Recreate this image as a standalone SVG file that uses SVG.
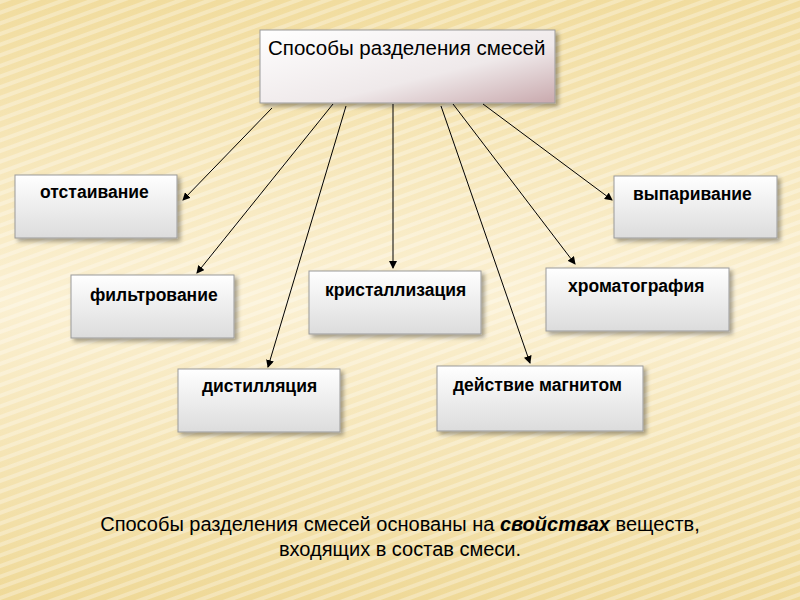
<svg xmlns="http://www.w3.org/2000/svg" width="800" height="600" viewBox="0 0 800 600">
<defs>
<linearGradient id="bg" x1="0" y1="0" x2="0" y2="1"><stop offset="0" stop-color="#f1dc9e"/><stop offset="0.5" stop-color="#fbf0d2"/><stop offset="1" stop-color="#efd998"/></linearGradient>
<pattern id="stripes" width="10" height="10" patternUnits="userSpaceOnUse" patternTransform="rotate(-20)"><rect width="10" height="4" fill="#ffffff" opacity="0.3"/></pattern>
<linearGradient id="box" x1="0" y1="0" x2="0" y2="1"><stop offset="0" stop-color="#ffffff"/><stop offset="1" stop-color="#dcdcdc"/></linearGradient>
<linearGradient id="top" x1="0" y1="0" x2="1" y2="1"><stop offset="0" stop-color="#ffffff"/><stop offset="0.6" stop-color="#efe9ea"/><stop offset="1" stop-color="#c9a9ad"/></linearGradient>
<filter id="sh" x="-10%" y="-10%" width="130%" height="140%"><feDropShadow dx="3" dy="3" stdDeviation="2" flood-opacity="0.35"/></filter>
<marker id="ar" markerWidth="8" markerHeight="8" refX="7" refY="4" orient="auto" markerUnits="userSpaceOnUse"><path d="M0,0 L8,4 L0,8 z" fill="#000"/></marker>
<style>
.b{fill:url(#box);stroke:#9a9a9a;stroke-width:1;filter:url(#sh)}
.t{font-family:"Liberation Sans",Arial,sans-serif;font-size:17.5px;font-weight:bold;fill:#000}
.c line{stroke:#000;stroke-width:1;marker-end:url(#ar)}
</style>
</defs>
<rect width="800" height="600" fill="url(#bg)"/>
<rect width="800" height="600" fill="url(#stripes)"/>
<g id="root"><rect x="260" y="30" width="295" height="73" fill="url(#top)" stroke="#9a9a9a" filter="url(#sh)"/><text x="268" y="55" font-family="Liberation Sans,Arial,sans-serif" font-size="20.5">Способы разделения смесей</text></g>
<g id="n1"><rect class="b" x="15" y="175" width="162" height="63"/><text class="t" x="40" y="198">отстаивание</text></g>
<g id="n2"><rect class="b" x="614" y="176" width="163" height="62"/><text class="t" x="633" y="200">выпаривание</text></g>
<g id="n3"><rect class="b" x="71" y="275" width="163" height="63"/><text class="t" x="90" y="301">фильтрование</text></g>
<g id="n4"><rect class="b" x="309" y="271" width="172" height="63"/><text class="t" x="325" y="296">кристаллизация</text></g>
<g id="n5"><rect class="b" x="546" y="268" width="183" height="63"/><text class="t" x="568" y="292">хроматография</text></g>
<g id="n6"><rect class="b" x="178" y="369" width="162" height="63"/><text class="t" x="202" y="392">дистилляция</text></g>
<g id="n7"><rect class="b" x="437" y="366" width="206" height="65"/><text class="t" x="453" y="391">действие магнитом</text></g>
<g class="c" id="connectors">
<line x1="272" y1="108" x2="183" y2="200"/>
<line x1="333" y1="104" x2="197" y2="273"/>
<line x1="346" y1="106" x2="268" y2="367"/>
<line x1="393" y1="104" x2="393" y2="268"/>
<line x1="441" y1="106" x2="530" y2="363"/>
<line x1="453" y1="104" x2="575" y2="264"/>
<line x1="483" y1="104" x2="612" y2="200"/>
</g>
<g font-family="Liberation Sans,Arial,sans-serif" font-size="20" text-anchor="middle">
<text x="400" y="531">Способы разделения смесей основаны на <tspan font-weight="bold" font-style="italic">свойствах</tspan>  веществ,</text>
<text x="400" y="556">входящих в состав смеси.</text>
</g>
</svg>
